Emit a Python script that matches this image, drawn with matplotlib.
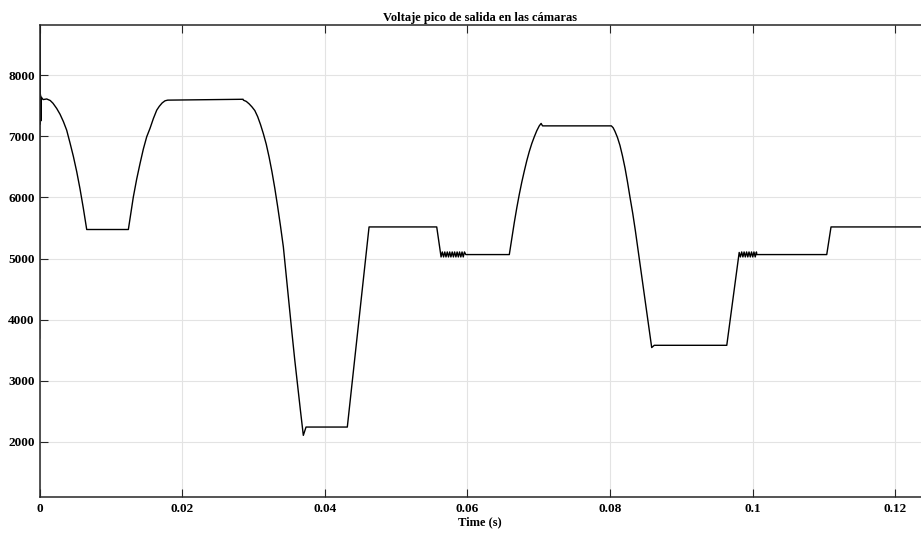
import matplotlib
matplotlib.use("Agg")
import matplotlib.pyplot as plt

# Peak output voltage of the chambers, sampled breakpoints (time in s, voltage in V)
time_s = [
    0.0, 0.00003, 0.00008, 0.00013, 0.00018, 0.00025, 0.0005,
    # first dip
    0.00101, 0.0015, 0.00189, 0.00241, 0.00288, 0.00335, 0.00381, 0.00428, 0.00475, 0.00522,
    0.00568, 0.00615, 0.00662,
    0.01246,
    # first recovery
    0.01316, 0.01363, 0.01410, 0.01456, 0.01503, 0.0155, 0.01597, 0.01644, 0.0168, 0.0172, 0.0176, 0.01798,
    0.02855,
    # deep drop
    0.02859, 0.0290, 0.0294, 0.0298, 0.0302, 0.0306, 0.0310, 0.0314, 0.0318, 0.0322, 0.0326,
    0.0330, 0.0334, 0.0338, 0.0342, 0.0346, 0.0350, 0.0354, 0.0358, 0.0362, 0.0366, 0.0370,
    0.03738, 0.04317, 0.04622, 0.05571,
    # settling ripple
    0.05632, 0.05649, 0.05667, 0.05684, 0.05701, 0.05719, 0.05736, 0.05753, 0.05770, 0.05788,
    0.05805, 0.05822, 0.05840, 0.05857, 0.05874, 0.05891, 0.05909, 0.05926, 0.05943, 0.05960,
    0.05978, 0.06589,
    # second rise
    0.06624, 0.06659, 0.06694, 0.06729, 0.06764, 0.06799, 0.06834, 0.06869, 0.06904, 0.06939,
    0.06974, 0.07009, 0.07035, 0.07055, 0.08020,
    # second drop
    0.08045, 0.08071, 0.08106, 0.08141, 0.08176, 0.08212, 0.08247, 0.08282, 0.08320, 0.08356,
    0.08586, 0.08622, 0.09639,
    # settling ripple
    0.09813, 0.09830, 0.09848, 0.09865, 0.09882, 0.09899, 0.09917, 0.09934, 0.09951, 0.09969,
    0.09986, 0.10003, 0.10020, 0.10038, 0.10055, 0.10060,
    0.11041, 0.11101, 0.12400,
]
voltage_v = [
    3700, 8900, 7200, 7680, 7250, 7640, 7600,
    7610, 7585, 7540, 7455, 7360, 7240, 7100, 6890, 6670, 6420,
    6140, 5820, 5475,
    5475,
    6008, 6300, 6555, 6790, 6990, 7130, 7290, 7427, 7490, 7545, 7580, 7591,
    7605,
    7591, 7570, 7530, 7480, 7420, 7320, 7190, 7040, 6870, 6660, 6420,
    6150, 5850, 5530, 5190, 4720, 4250, 3790, 3340, 2920, 2510, 2108,
    2244, 2244, 5517, 5517,
    5026, 5108, 5026, 5108, 5026, 5108, 5026, 5108, 5026, 5108,
    5026, 5108, 5026, 5108, 5026, 5108, 5026, 5108, 5026, 5108,
    5065, 5065,
    5330, 5590, 5830, 6050, 6250, 6430, 6600, 6750, 6880, 6990,
    7090, 7170, 7210, 7170, 7170,
    7140, 7080, 6980, 6850, 6680, 6480, 6250, 6000, 5740, 5463,
    3544, 3581, 3581,
    5100, 5026, 5108, 5026, 5108, 5026, 5108, 5026, 5108, 5026,
    5108, 5026, 5108, 5026, 5108, 5065,
    5065, 5517, 5517,
]

x_ticks = [0, 0.02, 0.04, 0.06, 0.08, 0.1, 0.12]
x_tick_labels = ["0", "0.02", "0.04", "0.06", "0.08", "0.1", "0.12"]
y_ticks = [2000, 3000, 4000, 5000, 6000, 7000, 8000]
y_tick_labels = ["2000", "3000", "4000", "5000", "6000", "7000", "8000"]

title_text = "Voltaje pico de salida en las cámaras"
x_label = "Time (s)"

plt.rcParams["font.family"] = ["Liberation Serif", "DejaVu Serif"]
plt.rcParams["font.weight"] = "bold"

fig = plt.figure(figsize=(9.21, 5.34), dpi=100)
ax = fig.add_axes([0.0429, 0.0693, 0.9571, 0.8839])

ax.plot(time_s, voltage_v, color="black", linewidth=1.0)

ax.set_xlim(0, 0.12363)
ax.set_ylim(1100, 8820)
ax.set_xticks(x_ticks)
ax.set_xticklabels(x_tick_labels, fontsize=9.5, fontweight="bold")
ax.set_yticks(y_ticks)
ax.set_yticklabels(y_tick_labels, fontsize=9.5, fontweight="bold")

ax.grid(True, color="#e3e3e3", linewidth=0.8)
ax.set_axisbelow(True)

ax.tick_params(axis="both", direction="in", length=6, width=0.8, color="#262626",
               top=True, right=False)
ax.tick_params(axis="x", pad=4)
ax.tick_params(axis="y", pad=3.5)
for side in ("left", "bottom", "top"):
    ax.spines[side].set_linewidth(1.1)
    ax.spines[side].set_color("#262626")
ax.spines["right"].set_visible(False)

ax.set_title(title_text, fontsize=9, fontweight="bold", pad=3)
ax.set_xlabel(x_label, fontsize=9, fontweight="bold", labelpad=1)

fig.savefig("out.png", dpi=100)
